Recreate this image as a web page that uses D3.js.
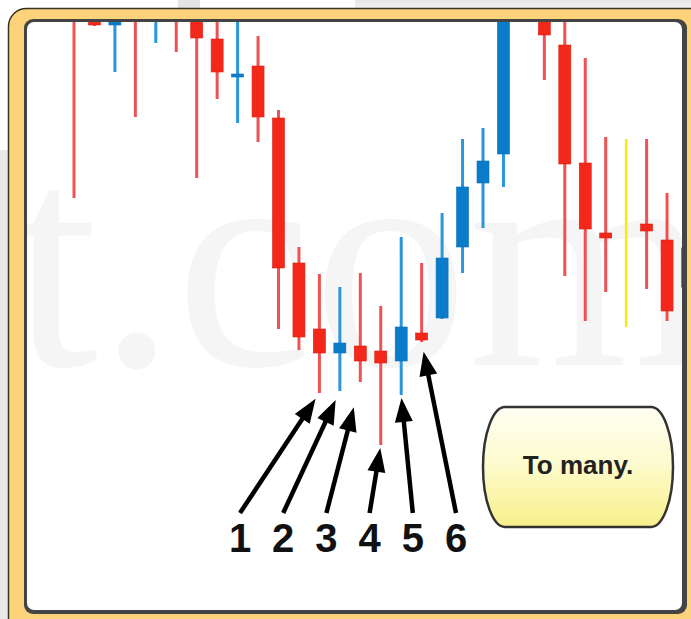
<!DOCTYPE html>
<html>
<head>
<meta charset="utf-8">
<script src="https://cdn.jsdelivr.net/npm/d3@7"></script>
<style>
  html, body { margin: 0; padding: 0; background: #fff; }
  svg { display: block; }
</style>
</head>
<body>
<svg id="chart" width="691" height="619"></svg>
<script>
// ---- data (price units) ----
const opens  = [640,620,587,650,600,640,620,573,535,546,494,349,283,259,266,261,251,279,294,365,429,458,620,630,567,449,379,382,388,372,325];
const highs  = [660,640,650,660,640,650,630,600,600,576,502,365,338,325,339,306,375,349,399,473,484,640,660,650,610,554,475,473,473,419,380];
const lows   = [414,586,540,495,569,560,434,513,489,470,283,262,219,221,230,167,217,270,293,339,384,425,598,532,336,291,320,285,323,291,310];
const closes = [610,587,620,620,630,600,574,540,538,495,344,275,259,269,251,249,285,272,354,425,451,620,640,577,448,383,374,382,381,301,364];
const labels = ["1","2","3","4","5","6"];
const labelCandles = [12,13,14,15,16,17];
const noteText = "To many.";
const watermark = "t.com";

const candles = opens.map((o,i)=>({i, o, h:highs[i], l:lows[i], c:closes[i]}));

const svg = d3.select("#chart");
const W = 691, H = 619;

// ---- frame ----
const defs = svg.append("defs");
const gg = defs.append("linearGradient").attr("id","note").attr("x1",0).attr("y1",0).attr("x2",0).attr("y2",1);
gg.append("stop").attr("offset","0%").attr("stop-color","#fffff4");
gg.append("stop").attr("offset","45%").attr("stop-color","#fdfbd0");
gg.append("stop").attr("offset","100%").attr("stop-color","#f7f08a");
const tg = defs.append("linearGradient").attr("id","topfade").attr("x1",0).attr("y1",0).attr("x2",0).attr("y2",1);
tg.append("stop").attr("offset","0%").attr("stop-color","#e6e6e6");
tg.append("stop").attr("offset","100%").attr("stop-color","#f6f6f6");

svg.append("rect").attr("x",0).attr("y",0).attr("width",W).attr("height",H).attr("fill","#fff");
svg.append("rect").attr("x",0).attr("y",150).attr("width",8).attr("height",H-150).attr("fill","#e9e9e9");
svg.append("rect").attr("x",355).attr("y",0).attr("width",336).attr("height",10).attr("fill","url(#topfade)");
svg.append("rect").attr("x",178).attr("y",0).attr("width",22).attr("height",10).attr("fill","#e4e4e4");

svg.append("rect").attr("x",8.5).attr("y",8.5).attr("width",720).attr("height",720).attr("rx",18)
  .attr("fill","#fcd27a").attr("stroke","#3a3222").attr("stroke-width",1.5);
svg.append("rect").attr("x",24).attr("y",19).attr("width",663).attr("height",595).attr("rx",9).attr("fill","#444");
svg.append("rect").attr("x",27).attr("y",22).attr("width",655).attr("height",588).attr("rx",7).attr("fill","#fff");

defs.append("clipPath").attr("id","plot").append("rect")
  .attr("x",27).attr("y",22).attr("width",655).attr("height",588).attr("rx",7);

const plot = svg.append("g").attr("clip-path","url(#plot)");

// watermark
plot.append("text").attr("x",12).attr("y",365)
  .attr("font-family","'Liberation Serif', serif").attr("font-size",310)
  .attr("fill","#f5f5f5").text(watermark);

// ---- scales ----
const x = d3.scaleLinear().domain([0, candles.length-1]).range([74, 687.5]);
const y = d3.scaleLinear().domain([0, 590]).range([612, 22]);

const bodyW = 12;
const kind = d => d.c > d.o ? "up" : (d.c < d.o ? "down" : "doji");
const wickColor = {up:"#2a97dc", down:"#ee5252", doji:"#f4ec12"};
const bodyColor = {up:"#0a7cc9", down:"#f4281a", doji:"#f4ec12"};

plot.selectAll("line.wick").data(candles).join("line")
  .attr("class","wick")
  .attr("x1", d=>x(d.i)).attr("x2", d=>x(d.i))
  .attr("y1", d=>y(d.h)).attr("y2", d=>y(d.l))
  .attr("stroke", d=>wickColor[kind(d)])
  .attr("stroke-width", d=>kind(d)==="doji"?2.5:3);

plot.selectAll("rect.body").data(candles.filter(d=>kind(d)!=="doji")).join("rect")
  .attr("class","body")
  .attr("x", d=>x(d.i)-bodyW/2)
  .attr("width", bodyW)
  .attr("y", d=>y(Math.max(d.o,d.c)))
  .attr("height", d=>Math.max(3, Math.abs(y(d.o)-y(d.c))))
  .attr("fill", d=>bodyColor[kind(d)])
  .attr("stroke", d=>kind(d)==="up"?"#0a6fb8":"#de1e12")
  .attr("stroke-width", 0.6);

// ---- annotations ----
const lx = d3.scalePoint().domain(labels).range([240, 456]);
const tailY = 513, gaps = [7,10,26,3,3,10];
const ann = svg.append("g");
labels.forEach((lab, k) => {
  const c = candles[labelCandles[k]];
  const x0 = lx(lab), y0 = tailY;
  const tx = x(c.i), ty = y(c.l);
  const dx = tx - x0, dy = ty - y0, len = Math.hypot(dx, dy);
  const ux = dx/len, uy = dy/len;
  const ex = tx - ux*gaps[k], ey = ty - uy*gaps[k];
  const hl = 24, hw = 9;
  const bx = ex - ux*hl, by = ey - uy*hl;
  ann.append("line").attr("x1",x0).attr("y1",y0).attr("x2",bx+ux*2).attr("y2",by+uy*2)
    .attr("stroke","#000").attr("stroke-width",4.5);
  ann.append("path")
    .attr("d", `M${ex},${ey}L${bx - uy*hw},${by + ux*hw}L${bx + uy*hw},${by - ux*hw}Z`)
    .attr("fill","#000");
  ann.append("text").attr("x",x0).attr("y",552).attr("text-anchor","middle")
    .attr("font-family","'Liberation Sans', Arial, sans-serif").attr("font-weight","bold")
    .attr("font-size",40).attr("fill","#111").text(lab);
});

// note button
svg.append("rect").attr("x",483).attr("y",407).attr("width",190).attr("height",120)
  .attr("rx",22).attr("ry",60).attr("fill","url(#note)").attr("stroke","#333").attr("stroke-width",2.5);
svg.append("text").attr("x",578).attr("y",474).attr("text-anchor","middle")
  .attr("font-family","'Liberation Sans', Arial, sans-serif").attr("font-weight","bold")
  .attr("font-size",26).attr("fill","#222").text(noteText);
</script>
</body>
</html>
